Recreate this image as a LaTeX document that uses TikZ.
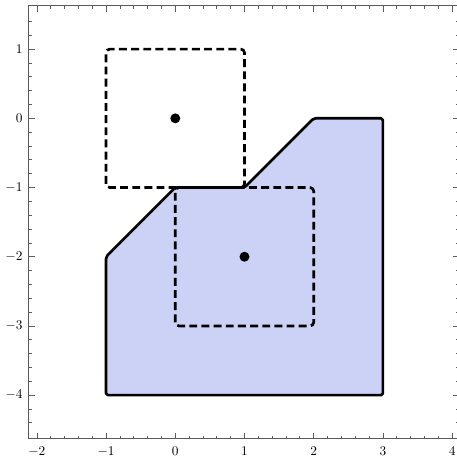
\documentclass[tikz,border=0pt]{standalone}
\definecolor{regionfill}{RGB}{204,210,245}
\begin{document}
\begin{tikzpicture}[x=2cm,y=2cm,
  framestyle/.style={draw=black!65, line width=0.8pt},
  tickstyle/.style={draw=black!65, line width=0.6pt},
  boundary/.style={draw=black, line width=2.2pt, line join=round, rounded corners=1.5pt},
  dashbox/.style={draw=black, line width=2.2pt, dash pattern=on 6.5pt off 3.5pt, rounded corners=3pt},
  ticklabel/.style={inner sep=0pt, font=\fontsize{10.5}{12}\selectfont}]
  \clip (-2.533,-4.894) rectangle (4.071,1.710);
  % Shaded region
  \filldraw[boundary, fill=regionfill] (-1,-4) -- (-1,-2) -- (0,-1) -- (1,-1) -- (2,0) -- (3,0) -- (3,-4) -- cycle;
  % Dashed squares and their centres
  \draw[dashbox] (-1,-1) rectangle (1,1);
  \draw[dashbox] (0,-3) rectangle (2,-1);
  \coordinate (c1) at (0,0);
  \coordinate (c2) at (1,-2);
  \fill (c1) circle[radius=0.072];
  \fill (c2) circle[radius=0.072];
  % Frame
  \draw[framestyle] (-2.12,-4.63) rectangle (4.10,1.63);
  % Bottom and top ticks
  \foreach \x in {-2,-1.8,...,4.01} {
    \draw[tickstyle] (\x,-4.63) -- ++(0,0.043);
    \draw[tickstyle] (\x,1.63) -- ++(0,-0.043);
  }
  \foreach \x/\lab in {-2/$-2$, -1/$-1$, 0/$0$, 1/$1$, 2/$2$, 3/$3$, 4/$4$} {
    \draw[tickstyle] (\x,-4.63) -- ++(0,0.087);
    \draw[tickstyle] (\x,1.63) -- ++(0,-0.087);
    \node[ticklabel, anchor=north] (xlab\x) at (\x,-4.75) {\lab};
  }
  % Left and right ticks
  \foreach \y in {-4.4,-4.2,...,1.41} {
    \draw[tickstyle] (-2.12,\y) -- ++(0.043,0);
    \draw[tickstyle] (4.10,\y) -- ++(-0.043,0);
  }
  \foreach \y/\lab in {-4/$-4$, -3/$-3$, -2/$-2$, -1/$-1$, 0/$0$, 1/$1$} {
    \draw[tickstyle] (-2.12,\y) -- ++(0.087,0);
    \draw[tickstyle] (4.10,\y) -- ++(-0.087,0);
    \node[ticklabel, anchor=east] (ylab\y) at (-2.205,\y) {\lab};
  }
\end{tikzpicture}
\end{document}
